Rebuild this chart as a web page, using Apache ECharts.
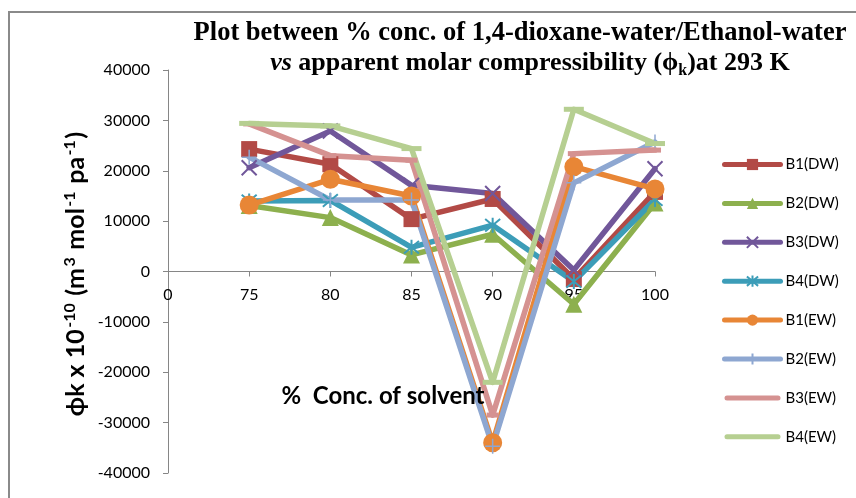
<!DOCTYPE html>
<html>
<head>
<meta charset="utf-8">
<script src="https://cdn.jsdelivr.net/npm/echarts@6/dist/echarts.min.js"></script>
<style>
html,body{margin:0;padding:0;background:#fff;}
#chart{width:856px;height:498px;}
</style>
</head>
<body>
<div id="chart"></div>
<script>
const categories = ['0', '75', '80', '85', '90', '95', '100'];
const yTicks = [-40000, -30000, -20000, -10000, 0, 10000, 20000, 30000, 40000];
const seriesNames = ['B1(DW)', 'B2(DW)', 'B3(DW)', 'B4(DW)', 'B1(EW)', 'B2(EW)', 'B3(EW)', 'B4(EW)'];
const b1DW = [null, 24300, 21300, 10400, 14400, -1500, 15800];
const b2DW = [null, 13100, 10700, 3300, 7400, -6500, 13600];
const b3DW = [null, 20600, 27900, 17100, 15500, 300, 20400];
const b4DW = [null, 14000, 14100, 4800, 9200, -2000, 14300];
const b1EW = [null, 13200, 18300, 15000, -34000, 20800, 16400];
const b2EW = [null, 22700, 14200, 14200, -34700, 17600, 25700];
const b3EW = [null, 29300, 23000, 22100, -28500, 23400, 24100];
const b4EW = [null, 29400, 28900, 24400, -22000, 32200, 25400];
const allValues = [b1DW, b2DW, b3DW, b4DW, b1EW, b2EW, b3EW, b4EW];

const colors = ['#B24A46', '#8DB04E', '#71579A', '#3C9DB8', '#E88636', '#8EA7D1', '#D59291', '#B6CF91'];
const symbols = [
  {symbol: 'rect', size: 16, stroke: 0},
  {symbol: 'triangle', size: 17, stroke: 0},
  {symbol: 'path://M0,0L10,10M10,0L0,10', size: 15, stroke: 2},
  {symbol: 'path://M0,0L10,10M10,0L0,10M5,-1L5,11', size: 15, stroke: 2},
  {symbol: 'circle', size: 19, stroke: 0},
  {symbol: 'path://M5,0L5,10M0,5L10,5', size: 15, stroke: 1.5},
  {symbol: 'rect', size: [12, 5], stroke: 0},
  {symbol: 'rect', size: [20, 5], stroke: 0}
];
const plainLineIcon = 'path://M2.5,0h51a2.5,2.5 0 0 1 0,5h-51a2.5,2.5 0 0 1 0,-5z';

const chart = echarts.init(document.getElementById('chart'), null, {renderer: 'canvas'});
const FONT = 'Lato, "Open Sans", sans-serif';

const series = seriesNames.map((name, i) => ({
  name: name,
  type: 'line',
  data: allValues[i],
  symbol: symbols[i].symbol,
  symbolSize: symbols[i].size,
  showSymbol: true,
  showAllSymbol: true,
  connectNulls: false,
  animation: false,
  lineStyle: {color: colors[i], width: 5.5, join: 'round', cap: 'round'},
  itemStyle: {color: colors[i], borderColor: colors[i], borderWidth: symbols[i].stroke, opacity: 1},
  emphasis: {disabled: true}
}));

const legendData = seriesNames.map((name, i) => (i >= 6 ? {name: name, icon: plainLineIcon} : {name: name}));

chart.setOption({
  animation: false,
  backgroundColor: '#fff',
  grid: {left: 168, right: 201, top: 70, bottom: 25, containLabel: false},
  legend: {
    orient: 'vertical',
    left: 722,
    top: 157,
    padding: 0,
    itemWidth: 56,
    itemHeight: 14,
    itemGap: 23.9,
    lineStyle: {width: 5, cap: 'round'},
    textStyle: {fontFamily: FONT, fontSize: 15, color: '#000'},
    data: legendData
  },
  xAxis: {
    type: 'category',
    data: categories,
    boundaryGap: false,
    offset: -201.5,
    axisLine: {onZero: false, lineStyle: {color: '#868686', width: 1}},
    axisTick: {show: true, length: 5, lineStyle: {color: '#868686'}},
    axisLabel: {fontFamily: FONT, fontSize: 16, color: '#000', margin: 15, interval: 0},
    splitLine: {show: false}
  },
  yAxis: {
    type: 'value',
    min: yTicks[0],
    max: yTicks[yTicks.length - 1],
    interval: 10000,
    axisLine: {show: true, lineStyle: {color: '#868686', width: 1}},
    axisTick: {show: true, length: 5, lineStyle: {color: '#868686'}},
    axisLabel: {fontFamily: FONT, fontSize: 16, color: '#000', margin: 18, formatter: v => String(v)},
    splitLine: {show: false}
  },
  graphic: [
    {type: 'rect', shape: {x: 9, y: 12, width: 900, height: 600}, style: {fill: 'none', stroke: '#8a8a8a', lineWidth: 2}, silent: true},
    {type: 'text', x: 520, y: 33, style: {text: 'Plot between % conc. of 1,4-dioxane-water/Ethanol-water', font: 'bold 26.5px "Liberation Serif", "Times New Roman", serif', fill: '#000', align: 'center', verticalAlign: 'middle'}},
    {type: 'text', x: 530, y: 63, style: {
      text: '{i|vs} {b|apparent molar compressibility (ϕ}{s|k}{b|)at 293 K}',
      align: 'center', verticalAlign: 'middle',
      rich: {
        i: {font: 'italic bold 26px "Liberation Serif", serif', fill: '#000', lineHeight: 32, padding: [0, 3, 0, 0]},
        b: {font: 'bold 26px "Liberation Serif", serif', fill: '#000', lineHeight: 32},
        s: {font: 'bold 16px "Liberation Serif", serif', fill: '#000', lineHeight: 14, verticalAlign: 'bottom'}
      }
    }},
    {type: 'text', x: 76, y: 274, rotation: Math.PI / 2, style: {
      text: '{m|ϕk x 10}{p|-10}{m| (m}{p|3}{m| mol}{p|-1}{m| pa}{p|-1}{m|)}',
      align: 'center', verticalAlign: 'middle',
      rich: {
        m: {fontFamily: FONT, fontWeight: 'bold', fontSize: 25, fill: '#000', lineHeight: 28, padding: [0, 1.5]},
        p: {fontFamily: FONT, fontWeight: 'bold', fontSize: 16, fill: '#000', lineHeight: 19, verticalAlign: 'top'}
      }
    }},
    {type: 'text', x: 383, y: 396, z: 10, style: {text: '%  Conc. of solvent', fontFamily: FONT, fontWeight: 'bold', fontSize: 24, fill: '#000', align: 'center', verticalAlign: 'middle'}}
  ],
  series: series
});
</script>
</body>
</html>
